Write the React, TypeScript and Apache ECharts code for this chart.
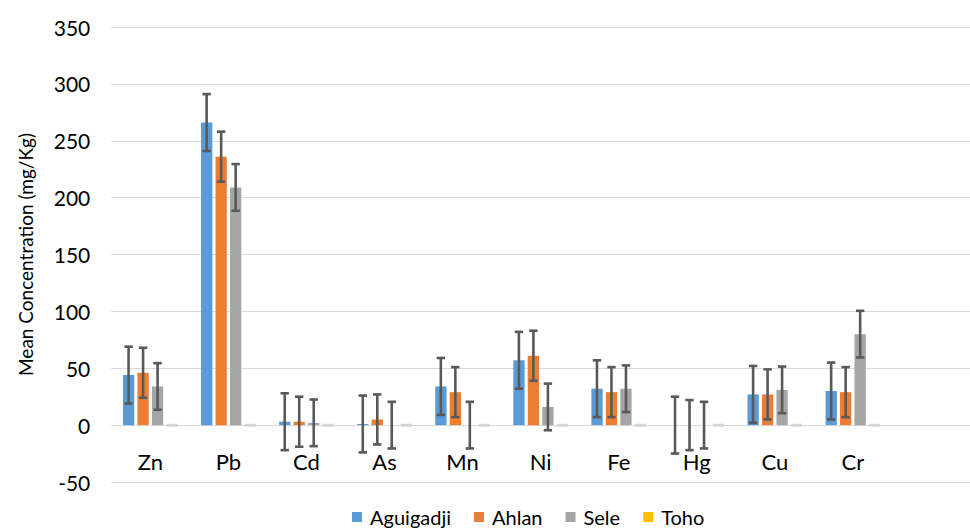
import React, { useEffect, useRef } from "react";
import * as echarts from "echarts";

const categories = ["Zn", "Pb", "Cd", "As", "Mn", "Ni", "Fe", "Hg", "Cu", "Cr"];
const seriesNames = ["Aguigadji", "Ahlan", "Sele", "Toho"];
const aguigadji = [44, 266, 3, 1, 34, 57, 32, 0, 27, 30];
const ahlan = [46, 236, 3, 5, 29, 61, 29, 0, 27, 29];
const sele = [34, 209, 2, 0, 0, 16, 32, 0, 31, 80];
const toho = [0, 0, 0, 0, 0, 0, 0, 0, 0, 0];
const aguigadjiErr = [25, 25, 25, 25, 25, 25, 25, 25, 25, 25];
const ahlanErr = [22, 22, 22, 22, 22, 22, 22, 22, 22, 22];
const seleErr = [20.5, 20.5, 20.5, 20.5, 20.5, 20.5, 20.5, 20.5, 20.5, 20.5];
const yTicks = { min: -50, max: 350, interval: 50 };

const colors = ["#5B9BD5", "#ED7D31", "#A5A5A5", "#FFC000"];
const FONT = "Lato";
const BAR_W = 11.3;
const BAR_STEP = 14.5;

function errorSeries(means: number[], errs: number[], slot: number) {
  const data = means.map((m, i) => [i, m - errs[i], m + errs[i]]);
  return {
    type: "custom",
    name: "err" + slot,
    silent: true,
    z: 10,
    data,
    renderItem: (params: any, api: any) => {
      const idx = api.value(0);
      const lo = api.coord([idx, api.value(1)]);
      const hi = api.coord([idx, api.value(2)]);
      const x = lo[0] + (slot - 1.5) * BAR_STEP;
      const cap = 4.2;
      const style = { stroke: "#595959", lineWidth: 2.6, fill: null };
      return {
        type: "group",
        children: [
          { type: "line", shape: { x1: x, y1: lo[1], x2: x, y2: hi[1] }, style },
          { type: "line", shape: { x1: x - cap, y1: lo[1], x2: x + cap, y2: lo[1] }, style },
          { type: "line", shape: { x1: x - cap, y1: hi[1], x2: x + cap, y2: hi[1] }, style },
        ],
      };
    },
  };
}

export default function App() {
  const ref = useRef<HTMLDivElement>(null);
  useEffect(() => {
    if (!ref.current) return;
    const chart = echarts.init(ref.current, null, { renderer: "svg" });
    const values = [aguigadji, ahlan, sele, toho];
    const barSeries = seriesNames.map((name, i) => ({
      type: "bar",
      name,
      data: values[i],
      barWidth: BAR_W,
      barGap: "28%",
      itemStyle:
        i === 3
          ? { color: "#d6d6d6", borderColor: "#d6d6d6", borderWidth: 3 }
          : { color: colors[i] },
    }));
    chart.setOption({
      animation: false,
      textStyle: { fontFamily: FONT },
      grid: { left: 111.3, right: -8, top: 27, bottom: 46, containLabel: false },
      legend: {
        left: 347,
        top: 502,
        icon: "rect",
        itemWidth: 10,
        itemHeight: 10,
        itemGap: 23,
        textStyle: { fontFamily: FONT, fontSize: 20, color: "#000", padding: [0, 0, 0, 3] },
        data: seriesNames.map((n, i) => ({
          name: n,
          itemStyle: { color: colors[i], borderWidth: 0 },
        })),
      },
      xAxis: {
        type: "category",
        data: [...categories, ""],
        axisLine: { show: false, onZero: false },
        axisTick: { show: false },
        axisLabel: { margin: -32, fontFamily: FONT, fontSize: 22, color: "#000" },
      },
      yAxis: {
        type: "value",
        min: yTicks.min,
        max: yTicks.max,
        interval: yTicks.interval,
        name: "Mean Concentration (mg/Kg)",
        nameLocation: "middle",
        nameGap: 76,
        nameTextStyle: { fontFamily: FONT, fontSize: 19, color: "#000" },
        axisLine: { show: false },
        axisTick: { show: false },
        axisLabel: { margin: 21, fontFamily: FONT, fontSize: 21, color: "#000" },
        splitLine: { lineStyle: { color: "#d9d9d9", width: 1 } },
      },
      series: [
        ...barSeries,
        errorSeries(aguigadji, aguigadjiErr, 0),
        errorSeries(ahlan, ahlanErr, 1),
        errorSeries(sele, seleErr, 2),
      ],
    });
    return () => chart.dispose();
  }, []);
  return (
    <div
      ref={ref}
      style={{ position: "fixed", left: 0, top: 0, width: 970, height: 528, background: "#fff" }}
    />
  );
}
